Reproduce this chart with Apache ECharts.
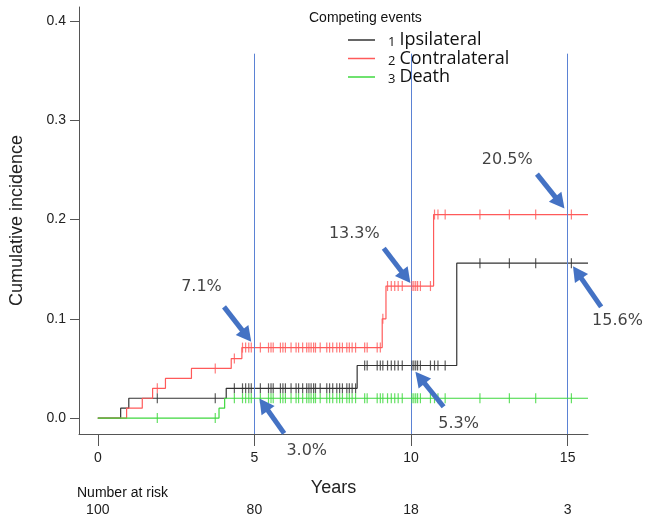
<!DOCTYPE html>
<html>
<head>
<meta charset="utf-8">
<script src="https://cdn.jsdelivr.net/npm/echarts@6/dist/echarts.min.js"></script>
<style>
html,body{margin:0;padding:0;background:#fff;}
#chart{width:646px;height:519px;}
</style>
</head>
<body>
<div id="chart"></div>
<script>
// ---- data ----
const legendNames = ['Ipsilateral', 'Contralateral', 'Death'];
const ipsiT = [0, 0.73, 0.99, 4.1, 8.28, 11.46, 15.65];
const ipsiV = [0, 0.01, 0.02, 0.03, 0.053, 0.156, 0.156];
const contraT = [0, 0.92, 1.42, 1.75, 2.16, 2.99, 4.26, 4.6, 9.08, 9.2, 10.72, 15.65];
const contraV = [0, 0.01, 0.02, 0.03, 0.04, 0.05, 0.06, 0.071, 0.10, 0.133, 0.205, 0.205];
const deathT = [0, 3.87, 4.05, 15.65];
const deathV = [0, 0.01, 0.02, 0.02];
const censorT = [1.9, 3.75, 4.36, 4.62, 4.72, 4.82, 4.90, 5.19, 5.45, 5.53, 5.60, 5.83, 5.91, 5.99,
  6.17, 6.33, 6.41, 6.54, 6.67, 6.74, 6.81, 6.89, 6.95, 7.10, 7.31, 7.40, 7.50, 7.63, 7.72, 7.81,
  7.95, 8.03, 8.12, 8.23, 8.52, 8.60, 8.92, 9.02, 9.10, 9.25, 9.37, 9.48, 9.59, 9.72, 10.03, 10.09,
  10.15, 10.21, 10.30, 10.62, 10.75, 10.86, 11.09, 12.2, 13.14, 13.98, 15.12];
const xTicks = [0, 5, 10, 15];
const yTicks = [0, 0.1, 0.2, 0.3, 0.4];
const riskTimes = [0, 5, 10, 15];
const riskCounts = [100, 80, 18, 3];
const refLineX = [5, 10, 15];
const annoText = ['20.5%', '13.3%', '7.1%', '3.0%', '5.3%', '15.6%'];
const annoPos = [[13.07, 0.26], [8.19, 0.186], [3.31, 0.132], [6.67, -0.033], [11.52, -0.0054], [16.59, 0.0977]];
const arrowFrom = [[14.02, 0.2457], [9.13, 0.171], [4.03, 0.112], [5.95, -0.0154], [11.04, 0.0114], [16.07, 0.112]];
const arrowTo = [[14.9, 0.211], [9.98, 0.136], [4.9, 0.0768], [5.16, 0.0198], [10.14, 0.0466], [15.17, 0.153]];

// ---- helpers ----
function pairs(T, V) { return T.map((t, i) => [t, V[i]]); }
function stepAt(T, V, t) { let v = V[0]; for (let i = 0; i < T.length; i++) { if (T[i] <= t) v = V[i]; } return v; }
function censors(T, V) { const last = T[T.length - 1]; return censorT.filter(t => t <= last).map(t => [t, stepAt(T, V, t)]); }

const colors = ['#333333', '#ff5a5a', '#3fd83f'];
const curves = [[ipsiT, ipsiV], [contraT, contraV], [deathT, deathV]];
const AX = { min: -0.6, max: 15.65 };
const AY = { min: -0.016, max: 0.414 };
const refTop = 0.367;

const series = [];
curves.forEach((c, i) => {
  series.push({
    name: legendNames[i], type: 'line', step: 'end', symbol: 'none',
    data: pairs(c[0], c[1]), lineStyle: { width: 1.2, color: colors[i] }, itemStyle: { color: colors[i] },
    z: 3 + i, animation: false
  });
});
curves.forEach((c, i) => {
  series.push({
    name: legendNames[i] + ' censored', type: 'scatter', symbol: 'rect', symbolSize: [1.2, 10],
    data: censors(c[0], c[1]), itemStyle: { color: colors[i] }, z: 6 + i, animation: false, silent: true
  });
});
series.push({
  name: 'ref', type: 'line', data: [], clip: false, animation: false, silent: true,
  markLine: {
    silent: true, symbol: ['none', 'none'], label: { show: false },
    lineStyle: { color: '#5b82d4', width: 1, type: 'solid' },
    data: refLineX.map(x => [{ coord: [x, refTop] }, { coord: [x, AY.min] }])
  }
});
series.push({
  name: 'notes', type: 'scatter', clip: false, animation: false, silent: true, symbolSize: 1,
  itemStyle: { color: 'rgba(0,0,0,0)' },
  data: annoPos.map((p, i) => ({ value: p, label: { formatter: annoText[i] } })),
  label: { show: true, position: 'inside', fontFamily: 'DejaVu Sans', fontSize: 16, color: '#111' }
});

const chart = echarts.init(document.getElementById('chart'));
chart.setOption({
  animation: false,
  backgroundColor: '#fff',
  textStyle: { fontFamily: 'Liberation Sans' },
  grid: { left: 77, right: 58, top: 7, bottom: 85 },
  legend: {
    data: legendNames, orient: 'vertical', left: 348, top: 31, padding: 0,
    itemWidth: 27, itemHeight: 1.5, itemGap: 0.5, icon: 'rect', selectedMode: false,
    formatter: name => '{n|' + (legendNames.indexOf(name) + 1) + '}{t|' + name + '}',
    textStyle: {
      rich: {
        n: { fontFamily: 'Open Sans', fontSize: 13, color: '#111', padding: [0, 4, 0, 8], verticalAlign: 'bottom', lineHeight: 16 },
        t: { fontFamily: 'Open Sans', fontSize: 18, color: '#111', lineHeight: 18, verticalAlign: 'bottom' }
      }
    }
  },
  xAxis: [{
    type: 'value', min: AX.min, max: AX.max,
    name: 'Years', nameLocation: 'middle', nameGap: 45,
    nameTextStyle: { fontSize: 18, color: '#222', fontFamily: 'Liberation Sans' },
    axisLine: { onZero: false, lineStyle: { color: '#555', width: 1 } },
    axisTick: { show: true, inside: false, length: 12, customValues: xTicks, lineStyle: { color: '#555' } },
    axisLabel: { customValues: xTicks, fontSize: 14, color: '#222', margin: 17 },
    splitLine: { show: false }
  }, {
    type: 'value', min: AX.min, max: AX.max, position: 'bottom', offset: 60,
    axisLine: { show: false }, axisTick: { show: false }, splitLine: { show: false },
    axisLabel: {
      customValues: riskTimes, fontSize: 14, color: '#222', margin: 9,
      formatter: v => { const i = riskTimes.indexOf(v); return i >= 0 ? String(riskCounts[i]) : ''; }
    }
  }],
  yAxis: {
    type: 'value', min: AY.min, max: AY.max,
    name: 'Cumulative incidence', nameLocation: 'middle', nameGap: 53,
    nameTextStyle: { fontSize: 18, color: '#222', fontFamily: 'Liberation Sans' },
    axisLine: { show: true, onZero: false, lineStyle: { color: '#555', width: 1 } },
    axisTick: { show: true, inside: false, length: 9, customValues: yTicks, lineStyle: { color: '#555' } },
    axisLabel: { customValues: yTicks, fontSize: 14, color: '#222', margin: 13, formatter: v => v.toFixed(1) },
    splitLine: { show: false }
  },
  series: series
});

// arrows: positioned through the chart's own scales
const arrowEls = [];
arrowFrom.forEach((f, i) => {
  const p0 = chart.convertToPixel({ gridIndex: 0 }, f);
  const p1 = chart.convertToPixel({ gridIndex: 0 }, arrowTo[i]);
  const dx = p1[0] - p0[0], dy = p1[1] - p0[1];
  const len = Math.sqrt(dx * dx + dy * dy);
  const ux = dx / len, uy = dy / len, px = -uy, py = ux;
  const L = 15, W = 8;
  const bx = p1[0] - ux * L, by = p1[1] - uy * L;
  arrowEls.push({
    type: 'polyline', z: 20, silent: true,
    shape: { points: [p0, [bx + ux * 2, by + uy * 2]] },
    style: { stroke: '#4472c4', lineWidth: 5, lineCap: 'butt' }
  });
  arrowEls.push({
    type: 'polygon', z: 20, silent: true,
    shape: { points: [p1, [bx + px * W, by + py * W], [bx - px * W, by - py * W]] },
    style: { fill: '#4472c4' }
  });
});
chart.setOption({
  graphic: [
    { type: 'text', left: 309, top: 11, style: { text: 'Competing events', fontFamily: 'Liberation Sans', fontSize: 14, fill: '#111' } },
    { type: 'text', left: 77, top: 486, style: { text: 'Number at risk', fontFamily: 'Liberation Sans', fontSize: 14, fill: '#111' } }
  ].concat(arrowEls)
});
</script>
</body>
</html>
